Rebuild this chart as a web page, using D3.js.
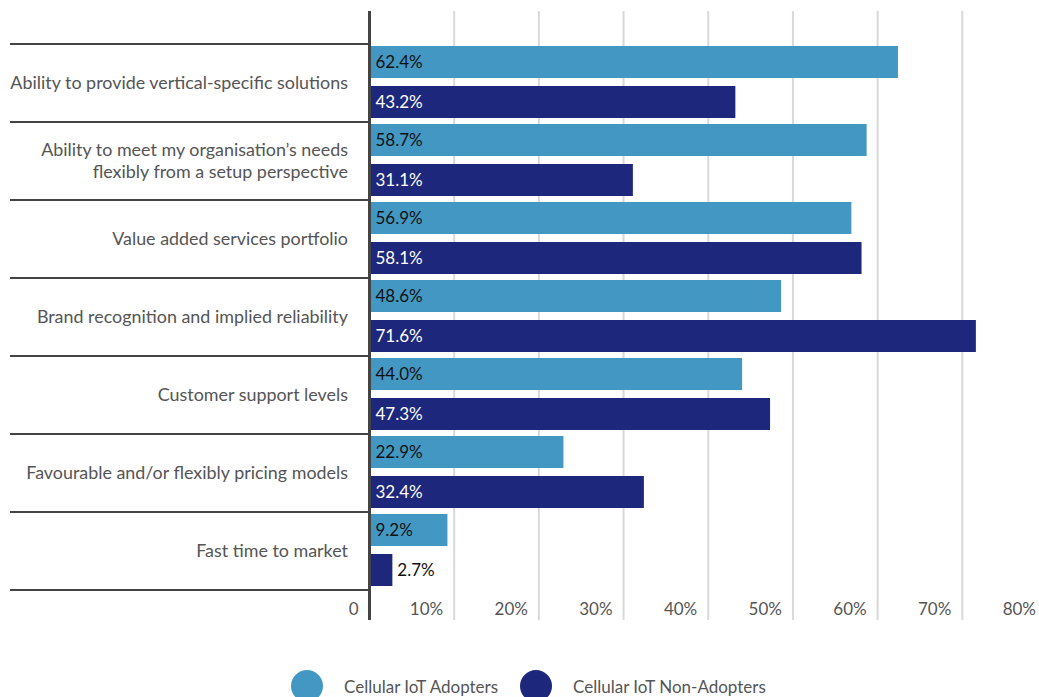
<!DOCTYPE html>
<html>
<head>
<meta charset="utf-8">
<script src="https://cdn.jsdelivr.net/npm/d3@7"></script>
<style>
  html, body { margin: 0; padding: 0; background: #fff; }
  svg { display: block; font-family: Lato, "Open Sans", sans-serif; }
</style>
</head>
<body>
<svg id="chart" width="1039" height="697"></svg>
<script>
// Reasons for choosing a connectivity provider, by respondent group (%)
const categories = [
  ["Ability to provide vertical-specific solutions"],
  ["Ability to meet my organisation’s needs", "flexibly from a setup perspective"],
  ["Value added services portfolio"],
  ["Brand recognition and implied reliability"],
  ["Customer support levels"],
  ["Favourable and/or flexibly pricing models"],
  ["Fast time to market"]
];
const adopters    = [62.4, 58.7, 56.9, 48.6, 44.0, 22.9, 9.2];
const nonAdopters = [43.2, 31.1, 58.1, 71.6, 47.3, 32.4, 2.7];
const seriesNames = ["Cellular IoT Adopters", "Cellular IoT Non-Adopters"];
const tickValues  = [0, 10, 20, 30, 40, 50, 60, 70, 80];
const tickLabels  = ["0", "10%", "20%", "30%", "40%", "50%", "60%", "70%", "80%"];

const colors = ["#4298c3", "#1d277b"];
const svg = d3.select("#chart");

const x = d3.scaleLinear().domain([0, 80]).range([369.5, 1047]);
const rowKeys = categories.map((c, i) => i);
const y = d3.scaleBand().domain(rowKeys).range([44, 590]).padding(0);
const sub = d3.scaleBand().domain([0, 1]).range([2, 74]).paddingInner(0.2);

const plotTop = 11, plotBottom = 620;

// vertical gridlines
svg.append("g").selectAll("line")
  .data(tickValues.filter(t => t > 0))
  .join("line")
  .attr("x1", d => x(d)).attr("x2", d => x(d))
  .attr("y1", plotTop).attr("y2", plotBottom)
  .attr("stroke", "#d9d9d9").attr("stroke-width", 2);

// tick labels, set just left of each gridline
svg.append("g").selectAll("text")
  .data(tickValues)
  .join("text")
  .attr("x", d => x(d) - 11)
  .attr("y", 615)
  .attr("text-anchor", "end")
  .attr("fill", "#555")
  .attr("font-size", 17)
  .text((d, i) => tickLabels[i]);

// row separators
svg.append("g").selectAll("line")
  .data(d3.range(categories.length + 1))
  .join("line")
  .attr("x1", 10).attr("x2", 369)
  .attr("y1", d => 44 + d * y.step()).attr("y2", d => 44 + d * y.step())
  .attr("stroke", "#444").attr("stroke-width", 2);

// category labels
const catG = svg.append("g").selectAll("text")
  .data(categories)
  .join("text")
  .attr("text-anchor", "end")
  .attr("fill", "#555")
  .attr("font-size", 17.9)
  .attr("y", (d, i) => y(i) + y.bandwidth() / 2 + 6 - (d.length - 1) * 11);
catG.selectAll("tspan")
  .data(d => d)
  .join("tspan")
  .attr("x", 348)
  .attr("dy", (d, i) => i === 0 ? 0 : 22)
  .text(d => d);

// bars
const rows = categories.map((c, i) => [adopters[i], nonAdopters[i]]);
const rowG = svg.append("g").selectAll("g")
  .data(rows)
  .join("g")
  .attr("transform", (d, i) => `translate(0,${y(i)})`);

rowG.selectAll("rect")
  .data(d => d)
  .join("rect")
  .attr("x", x(0))
  .attr("y", (d, j) => sub(j))
  .attr("width", d => x(d) - x(0))
  .attr("height", sub.bandwidth())
  .attr("fill", (d, j) => colors[j]);

rowG.selectAll("text")
  .data(d => d)
  .join("text")
  .attr("x", d => (x(d) - x(0) > 60) ? x(0) + 6 : x(d) + 5)
  .attr("y", (d, j) => sub(j) + sub.bandwidth() / 2 + 6)
  .attr("font-size", 17)
  .attr("fill", (d, j) => (j === 1 && x(d) - x(0) > 60) ? "#ffffff" : "#111")
  .text(d => d.toFixed(1) + "%");

// zero axis
svg.append("line")
  .attr("x1", x(0)).attr("x2", x(0))
  .attr("y1", plotTop).attr("y2", plotBottom)
  .attr("stroke", "#444").attr("stroke-width", 3);

// legend
const legend = svg.append("g");
const legendX = [307, 536];
seriesNames.forEach((name, j) => {
  legend.append("circle")
    .attr("cx", legendX[j]).attr("cy", 686).attr("r", 16)
    .attr("fill", colors[j]);
  legend.append("text")
    .attr("x", legendX[j] + 37).attr("y", 693)
    .attr("font-size", 17)
    .attr("fill", "#555")
    .text(name);
});
</script>
</body>
</html>
